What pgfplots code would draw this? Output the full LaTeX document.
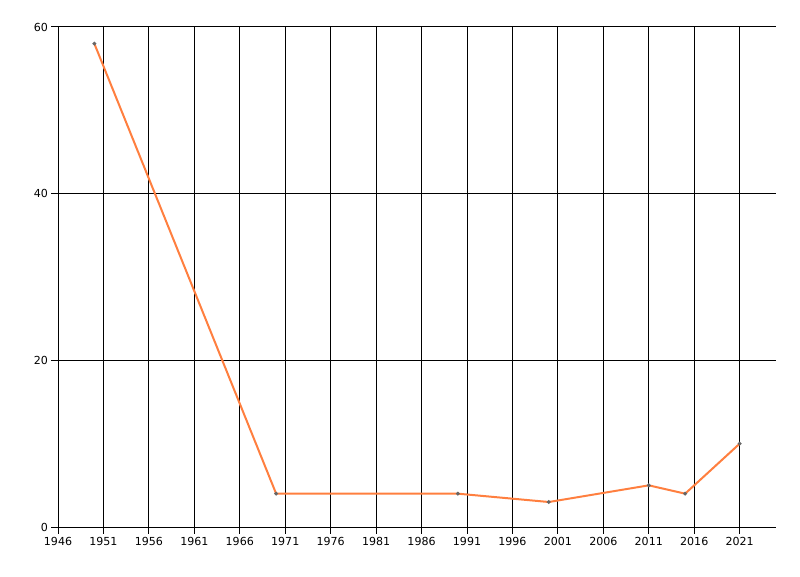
\documentclass[border=0pt]{standalone}
\usepackage{pgfplots}
\pgfplotsset{compat=1.18}
\usepackage{fontspec}
\setmainfont{DejaVu Sans}
\definecolor{lineorange}{RGB}{255,127,63}

\begin{document}
\begin{tikzpicture}
\begin{axis}[
    scale only axis,
    width=538.5pt, height=375pt,
    xmin=1946, xmax=2025,
    ymin=0, ymax=60,
    axis lines*=left,
    axis line style={black, line width=0.75pt},
    xtick={1946,1951,...,2021},
    ytick={0,20,40,60},
    grid=major,
    major grid style={black, line width=0.75pt},
    tick align=outside,
    major tick length=5pt,
    tick style={black, line width=0.75pt},
    ticklabel style={font=\fontsize{8.3}{9}\selectfont},
    /pgf/number format/assume math mode=true,
    x tick label style={/pgf/number format/1000 sep=, yshift=1pt},
    y tick label style={xshift=1pt},
    clip=false,
]
\path (rel axis cs:-0.0808,-0.098) rectangle (rel axis cs:1.0334,1.054);
\addplot[color=lineorange, line width=1.5pt,
    mark=*, mark size=0.55pt, mark options={draw=black!60, fill=black!60}]
coordinates {
    (1950,58) (1970,4) (1990,4) (2000,3) (2011,5) (2015,4) (2021,10)
};
\end{axis}
\end{tikzpicture}
\end{document}
